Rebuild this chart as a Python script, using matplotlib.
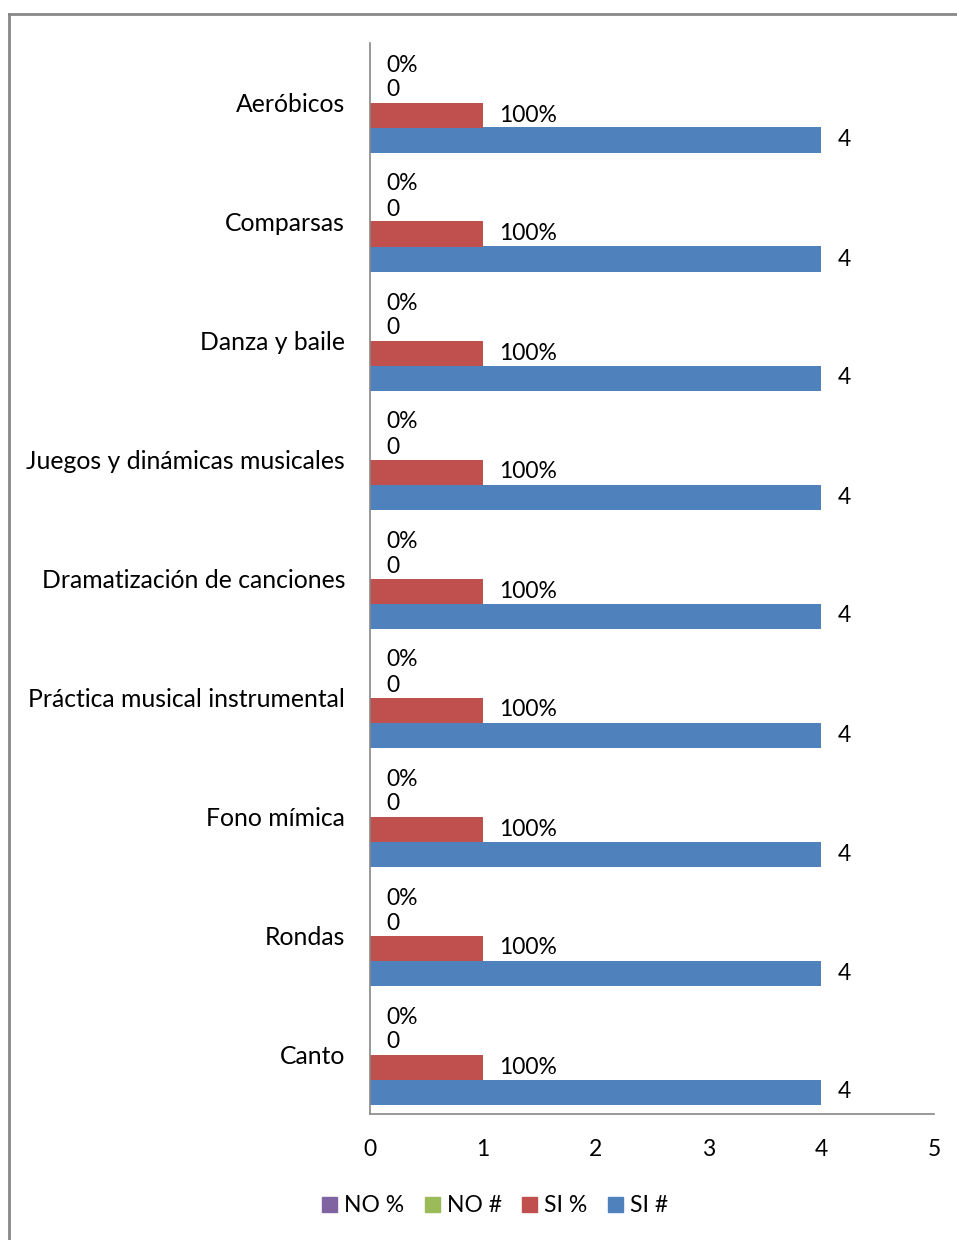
import matplotlib.pyplot as plt
from matplotlib.lines import Line2D
import numpy as np

plt.rcParams['font.family'] = ['Lato', 'DejaVu Sans']

# data (bottom to top, as drawn)
categories = ["Canto", "Rondas", "Fono mímica", "Práctica musical instrumental",
              "Dramatización de canciones", "Juegos y dinámicas musicales",
              "Danza y baile", "Comparsas", "Aeróbicos"]
si_num = [4, 4, 4, 4, 4, 4, 4, 4, 4]
si_pct = [1, 1, 1, 1, 1, 1, 1, 1, 1]
no_num = [0, 0, 0, 0, 0, 0, 0, 0, 0]
no_pct = [0, 0, 0, 0, 0, 0, 0, 0, 0]

blue = '#4F81BD'
red = '#C0504D'
green = '#9BBB59'
purple = '#8064A2'
fs = 16.5

W, H = 957, 1240
fig = plt.figure(figsize=(W / 100, H / 100), dpi=100)
ax = fig.add_axes([370 / W, 1 - 1114 / H, (934 - 370) / W, (1114 - 43) / H])

y = np.arange(len(categories))
h = 25 / 119

series = [
    (si_num, blue, "SI #", [str(v) for v in si_num], -1.5),
    (si_pct, red, "SI %", [f"{v:.0%}" for v in si_pct], -0.5),
    (no_num, green, "NO #", [str(v) for v in no_num], 0.5),
    (no_pct, purple, "NO %", [f"{v:.0%}" for v in no_pct], 1.5),
]
for vals, col, name, labs, off in series:
    bars = ax.barh(y + off * h, vals, height=h, color=col, label=name)
    ax.bar_label(bars, labels=labs, padding=12, fontsize=fs, color='black')

ax.set_xlim(0, 5)
ax.set_ylim(-0.5, len(categories) - 0.5)
ax.set_xticks(range(6))
ax.set_yticks(y)
ax.set_yticklabels(categories, fontsize=17.8)
ax.tick_params(axis='x', length=0, labelsize=fs, pad=18)
ax.tick_params(axis='y', length=0, pad=18)
for s in ['top', 'right']:
    ax.spines[s].set_visible(False)
for s in ['left', 'bottom']:
    ax.spines[s].set_color('#888888')
    ax.spines[s].set_linewidth(1.2)

# legend
handles = [plt.Rectangle((0, 0), 1, 1, color=c) for c in [purple, green, red, blue]]
fig.legend(handles, ["NO %", "NO #", "SI %", "SI #"], loc='center',
           bbox_to_anchor=(495 / W, 1 - 1206 / H), ncol=4, frameon=False,
           handlelength=0.65, handleheight=0.65, handletextpad=0.3,
           columnspacing=0.9, fontsize=fs)

# chart border (top and left edge visible)
fig.add_artist(Line2D([9 / W, 1], [1 - 14 / H, 1 - 14 / H], color='#888888', lw=2))
fig.add_artist(Line2D([9 / W, 9 / W], [0, 1 - 14 / H], color='#888888', lw=2))

fig.savefig('out.png', dpi=100)
